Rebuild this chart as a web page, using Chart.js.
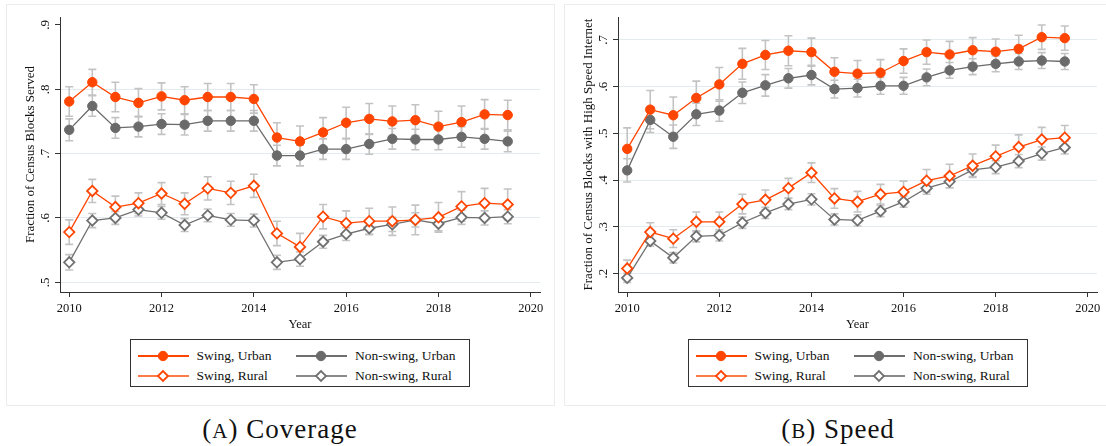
<!DOCTYPE html>
<html>
<head>
<meta charset="utf-8">
<script src="https://cdn.jsdelivr.net/npm/chart.js@4.4.1/dist/chart.umd.min.js"></script>
<style>
  body { margin: 0; width: 1106px; height: 446px; background: #fff; position: relative; overflow: hidden; font-family: 'Liberation Serif', 'Times New Roman', serif; }
  .panel { position: absolute; top: 4px; height: 400px; border: 1px solid #ececec; }
  canvas { position: absolute; top: 0; }
  .legend { position: absolute; top: 339px; width: 338px; height: 46px; border: 1px solid #333; background: #fff; }
  .item { position: absolute; height: 16px; font-size: 13.5px; color: #111; }
  .item svg { position: absolute; left: 0; top: 0; }
  .item span { position: absolute; top: 0; line-height: 16px; white-space: nowrap; }
  .caption { position: absolute; top: 414px; font-size: 27px; letter-spacing: 1px; color: #111; text-align: center; width: 300px; }
  .sc { font-size: 21px; }
</style>
</head>
<body>
<div class="panel" style="left:6px;width:547px"></div>
<div class="panel" style="left:564px;width:560px"></div>
<canvas id="coverage" width="553" height="332" style="left:0"></canvas>
<canvas id="speed" width="553" height="332" style="left:553px"></canvas>
<div class="legend" id="legA" style="left:130px"></div>
<div class="legend" id="legB" style="left:688px"></div>
<div class="caption" style="left:130px">(<span class="sc">A</span>) Coverage</div>
<div class="caption" style="left:688px">(<span class="sc">B</span>) Speed</div>
<script>
const years = [2010, 2010.5, 2011, 2011.5, 2012, 2012.5, 2013, 2013.5, 2014, 2014.5,
               2015, 2015.5, 2016, 2016.5, 2017, 2017.5, 2018, 2018.5, 2019, 2019.5];
const xTicks = [2010, 2012, 2014, 2016, 2018, 2020];
const seriesNames = ["Swing, Urban", "Non-swing, Urban", "Swing, Rural", "Non-swing, Rural"];

// (A) Coverage
const covTicks = [0.5, 0.6, 0.7, 0.8, 0.9];
const covTickLabels = [".5", ".6", ".7", ".8", ".9"];
const covSwingUrban = [0.781, 0.811, 0.788, 0.779, 0.789, 0.783, 0.788, 0.788, 0.785, 0.725,
                       0.719, 0.733, 0.748, 0.754, 0.750, 0.752, 0.742, 0.749, 0.761, 0.760];
const covSwingUrbanCI = [0.023, 0.020, 0.023, 0.022, 0.021, 0.021, 0.021, 0.021, 0.022, 0.023,
                         0.024, 0.023, 0.024, 0.024, 0.024, 0.024, 0.024, 0.025, 0.023, 0.023];
const covNonUrban = [0.737, 0.774, 0.740, 0.742, 0.746, 0.745, 0.751, 0.751, 0.751, 0.697,
                     0.697, 0.707, 0.707, 0.715, 0.723, 0.722, 0.722, 0.726, 0.723, 0.719];
const covNonUrbanCI = [0.017, 0.016, 0.016, 0.016, 0.016, 0.016, 0.016, 0.016, 0.016, 0.016,
                       0.016, 0.016, 0.016, 0.016, 0.016, 0.016, 0.016, 0.016, 0.016, 0.016];
const covSwingRural = [0.578, 0.642, 0.617, 0.623, 0.638, 0.622, 0.646, 0.639, 0.650, 0.576,
                       0.555, 0.602, 0.592, 0.595, 0.595, 0.597, 0.601, 0.618, 0.623, 0.621];
const covSwingRuralCI = [0.019, 0.018, 0.017, 0.016, 0.017, 0.017, 0.018, 0.018, 0.018, 0.019,
                         0.021, 0.019, 0.019, 0.020, 0.022, 0.023, 0.023, 0.023, 0.023, 0.024];
const covNonRural = [0.531, 0.596, 0.600, 0.613, 0.608, 0.589, 0.604, 0.597, 0.596, 0.531,
                     0.536, 0.563, 0.575, 0.584, 0.590, 0.597, 0.591, 0.601, 0.600, 0.602];
const covNonRuralCI = [0.012, 0.011, 0.010, 0.010, 0.010, 0.010, 0.010, 0.010, 0.010, 0.011,
                       0.011, 0.010, 0.010, 0.010, 0.011, 0.011, 0.011, 0.011, 0.011, 0.011];

// (B) Speed
const spdTicks = [0.2, 0.3, 0.4, 0.5, 0.6, 0.7];
const spdTickLabels = [".2", ".3", ".4", ".5", ".6", ".7"];
const spdSwingUrban = [0.467, 0.551, 0.539, 0.576, 0.605, 0.649, 0.668, 0.677, 0.674, 0.632,
                       0.628, 0.630, 0.655, 0.674, 0.669, 0.678, 0.675, 0.681, 0.706, 0.704];
const spdSwingUrbanCI = [0.045, 0.041, 0.039, 0.036, 0.036, 0.033, 0.031, 0.032, 0.030, 0.030,
                         0.028, 0.028, 0.026, 0.026, 0.028, 0.027, 0.027, 0.029, 0.026, 0.026];
const spdNonUrban = [0.421, 0.529, 0.493, 0.541, 0.549, 0.587, 0.603, 0.618, 0.625, 0.595,
                     0.597, 0.602, 0.602, 0.620, 0.635, 0.643, 0.649, 0.654, 0.656, 0.654];
const spdNonUrbanCI = [0.025, 0.027, 0.025, 0.024, 0.023, 0.023, 0.023, 0.021, 0.021, 0.019,
                       0.019, 0.018, 0.018, 0.018, 0.017, 0.017, 0.017, 0.017, 0.017, 0.017];
const spdSwingRural = [0.211, 0.289, 0.275, 0.311, 0.311, 0.349, 0.358, 0.383, 0.416, 0.361,
                       0.354, 0.370, 0.375, 0.399, 0.409, 0.431, 0.451, 0.471, 0.487, 0.491];
const spdSwingRuralCI = [0.018, 0.020, 0.019, 0.021, 0.021, 0.021, 0.021, 0.021, 0.021, 0.021,
                         0.022, 0.021, 0.023, 0.024, 0.025, 0.025, 0.024, 0.026, 0.026, 0.026];
const spdNonRural = [0.191, 0.270, 0.234, 0.280, 0.282, 0.309, 0.330, 0.349, 0.359, 0.316,
                     0.314, 0.334, 0.354, 0.383, 0.397, 0.422, 0.428, 0.441, 0.457, 0.470];
const spdNonRuralCI = [0.010, 0.011, 0.011, 0.012, 0.012, 0.012, 0.012, 0.012, 0.012, 0.012,
                       0.012, 0.012, 0.012, 0.013, 0.013, 0.014, 0.014, 0.014, 0.014, 0.014];

const ORANGE = "#ff4500";
const GREY = "#6a6a6a";
const styles = [
  { color: ORANGE, legendLine: ORANGE, point: "circle", fill: ORANGE },
  { color: GREY, legendLine: "#6e6e6e", point: "circle", fill: GREY },
  { color: ORANGE, legendLine: "#ff7a4a", point: "rectRot", fill: "#fff" },
  { color: "#707070", legendLine: "#8a8a8a", point: "rectRot", fill: "#fff" }
];
const serif = "'Liberation Serif', 'Times New Roman', serif";

// grey confidence bars, drawn under the lines
const errorBars = {
  id: "errorBars",
  beforeDatasetsDraw(chart) {
    const { ctx, scales: { x, y } } = chart;
    ctx.save();
    ctx.strokeStyle = "#c3c3c3";
    ctx.lineWidth = 1.6;
    chart.data.datasets.forEach(ds => {
      ds.data.forEach((p, i) => {
        const e = ds.errors[i];
        const px = x.getPixelForValue(p.x);
        const top = y.getPixelForValue(p.y + e);
        const bot = y.getPixelForValue(p.y - e);
        ctx.beginPath();
        ctx.moveTo(px, top); ctx.lineTo(px, bot);
        ctx.moveTo(px - 4, top); ctx.lineTo(px + 4, top);
        ctx.moveTo(px - 4, bot); ctx.lineTo(px + 4, bot);
        ctx.stroke();
      });
    });
    ctx.restore();
  }
};

// Stata style vertical y tick labels
const yLabels = {
  id: "yLabels",
  afterDraw(chart, args, opts) {
    const { ctx, scales: { y } } = chart;
    ctx.save();
    ctx.fillStyle = "#111";
    ctx.font = "13px " + serif;
    ctx.textAlign = "center";
    ctx.textBaseline = "middle";
    opts.values.forEach((v, i) => {
      ctx.save();
      ctx.translate(y.right - 14, y.getPixelForValue(v));
      ctx.rotate(-Math.PI / 2);
      ctx.fillText(opts.labels[i], 0, 0);
      ctx.restore();
    });
    ctx.restore();
  }
};

function makeChart(id, values, cis, yMin, yMax, yTicks, yTickLabels, yTitle, axisW, rightPad, titlePad, hideGrid) {
  return new Chart(document.getElementById(id), {
    type: "line",
    data: {
      datasets: values.map((vals, k) => ({
        label: seriesNames[k],
        data: years.map((yr, i) => ({ x: yr, y: vals[i] })),
        errors: cis[k],
        borderColor: styles[k].color,
        backgroundColor: styles[k].fill,
        borderWidth: 1.3,
        pointStyle: styles[k].point,
        pointRadius: styles[k].point === "circle" ? 4.7 : 5.2,
        pointBorderWidth: styles[k].point === "circle" ? 1 : 1.8,
        pointBorderColor: styles[k].color,
        pointBackgroundColor: styles[k].fill,
        tension: 0
      }))
    },
    options: {
      responsive: false,
      animation: false,
      events: [],
      layout: { padding: { top: 17, right: rightPad, bottom: 0, left: 0 } },
      plugins: {
        legend: { display: false },
        tooltip: { enabled: false },
        yLabels: { values: yTicks, labels: yTickLabels }
      },
      scales: {
        x: {
          type: "linear",
          min: 2009.8,
          max: 2020.2,
          afterBuildTicks: s => { s.ticks = xTicks.map(v => ({ value: v })); },
          afterFit: s => { s.height = 40; s.paddingLeft = 0; s.paddingRight = 0; },
          grid: { drawOnChartArea: false, tickLength: 5, tickColor: "#333" },
          border: { color: "#333", width: 1 },
          ticks: { font: { family: serif, size: 12.5 }, color: "#111", padding: 4, maxRotation: 0, autoSkip: false, callback: v => String(v) },
          title: { display: true, text: "Year", font: { family: serif, size: 12.5 }, color: "#111", padding: 0 }
        },
        y: {
          min: yMin,
          max: yMax,
          afterBuildTicks: s => { s.ticks = yTicks.map(v => ({ value: v })); },
          afterFit: s => { s.width = axisW; s.paddingTop = 0; s.paddingBottom = 0; },
          grid: {
            color: c => (c.tick && c.tick.value === hideGrid) ? "rgba(0,0,0,0)" : "#e2ebee",
            lineWidth: 1, tickLength: 5, tickColor: "#333"
          },
          border: { color: "#333", width: 1 },
          ticks: { display: false },
          title: { display: true, text: yTitle, font: { family: serif, size: 13 }, color: "#111", padding: { top: titlePad, bottom: 0 } }
        }
      }
    },
    plugins: [errorBars, yLabels]
  });
}

makeChart("coverage",
  [covSwingUrban, covNonUrban, covSwingRural, covNonRural],
  [covSwingUrbanCI, covNonUrbanCI, covSwingRuralCI, covNonRuralCI],
  0.4849, 0.9124, covTicks, covTickLabels, "Fraction of Census Blocks Served", 60, 13, 23, 0.9);

makeChart("speed",
  [spdSwingUrban, spdNonUrban, spdSwingRural, spdNonRural],
  [spdSwingUrbanCI, spdNonUrbanCI, spdSwingRuralCI, spdNonRuralCI],
  0.1608, 0.7492, spdTicks, spdTickLabels, "Fraction of Census Blocks with High Speed Internet", 65, 9, 28, null);

// legend boxes
function marker(k) {
  const s = styles[k];
  if (s.point === "circle") return `<circle cx="25" cy="8" r="4.7" fill="${s.fill}" stroke="${s.color}" stroke-width="1"/>`;
  return `<path d="M20 8 L25 3 L30 8 L25 13 Z" fill="#fff" stroke="${s.color}" stroke-width="1.8"/>`;
}
function buildLegend(id) {
  const box = document.getElementById(id);
  const cols = [6.5, 165];
  const rows = [8, 27.5];
  seriesNames.forEach((name, k) => {
    const col = k % 2, row = Math.floor(k / 2);
    const div = document.createElement("div");
    div.className = "item";
    div.style.left = cols[col] + "px";
    div.style.top = rows[row] + "px";
    div.innerHTML = `<svg width="52" height="16"><line x1="0" y1="8" x2="51" y2="8" stroke="${styles[k].legendLine}" stroke-width="2"/>${marker(k)}</svg><span style="left:59px">${name}</span>`;
    box.appendChild(div);
  });
}
buildLegend("legA");
buildLegend("legB");
</script>
</body>
</html>
